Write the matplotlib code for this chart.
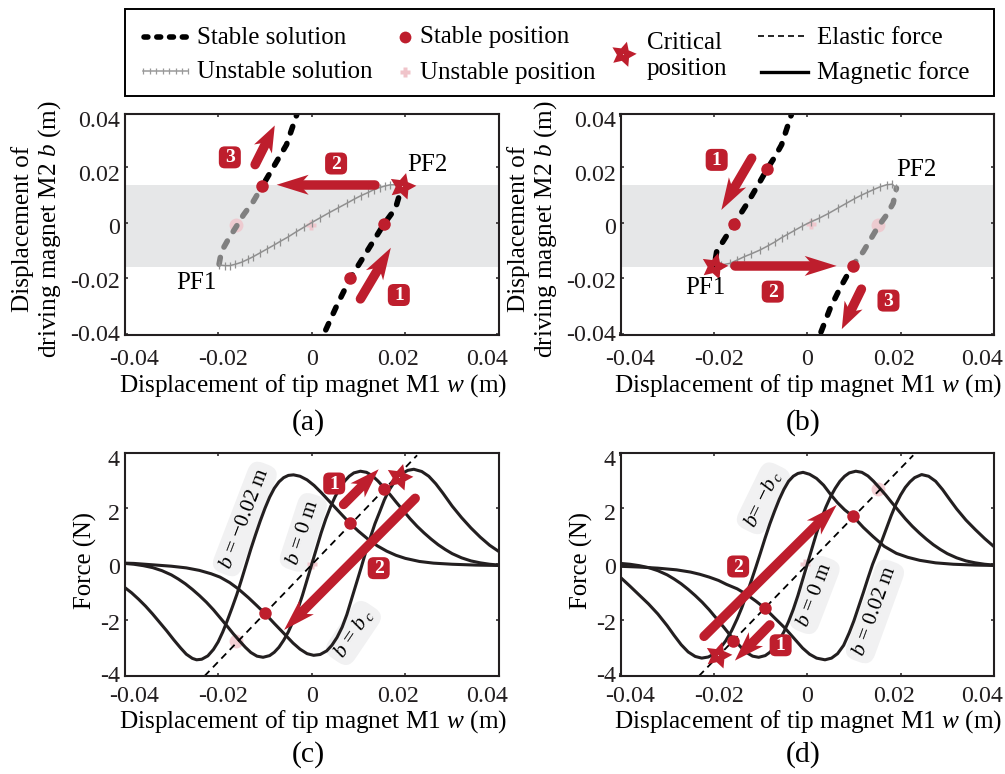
import matplotlib
matplotlib.use('Agg')
import numpy as np
import matplotlib.pyplot as plt
from matplotlib.patches import Polygon, Rectangle, FancyBboxPatch
from matplotlib.lines import Line2D
from matplotlib.transforms import IdentityTransform, ScaledTranslation

plt.rcParams['font.family'] = ['Liberation Serif', 'DejaVu Serif']
plt.rcParams['mathtext.fontset'] = 'custom'
plt.rcParams['mathtext.rm'] = 'Liberation Serif'
plt.rcParams['mathtext.it'] = 'Liberation Serif:italic'
plt.rcParams['mathtext.bf'] = 'Liberation Serif:bold'

RED = '#BE1E2D'; BAND = '#E6E7E8'; INK = '#231F20'; GRAY = '#808080'; PINK = '#F0C4CA'

# ---- panel (a) solution curves
a_top_w = [-.0032, -.0054, -.0075, -.0104]
a_top_b = [.0386, .0278, .0218, .0135]
a_gray_w = [-.0104, -.0125, -.0146, -.0161, -.0179, -.0193, -.0198]
a_gray_b = [.0135, .0075, .0027, -.0014, -.0062, -.0104, -.0149]
a_uns_w = [-.0198, -.0185, -.0175, -.0163, -.015, -.0137, -.0125, -.011, -.0095, -.008, -.0068, -.005, -.0034, -.0017,
           0, .0018, .0037, .0056, .0075, .009, .0105, .012, .0132, .0145, .0157, .0168, .0182, .0193]
a_uns_b = [-.0152, -.0154, -.0154, -.0149, -.0142, -.0132, -.0122, -.0108, -.0094, -.008, -.0068, -.0051, -.0034, -.0017,
           0, .0017, .0035, .0052, .0069, .0083, .0096, .0107, .0117, .0125, .0131, .0135, .0135, .0131]
a_low_w = [.0193, .0179, .0154, .0111, .0082, .0054, .0025]
a_low_b = [.0131, .0051, -.0006, -.0122, -.0200, -.0295, -.0402]
a_stable = ([.0082, .0154, -.0107], [-.0200, -.0006, .0131])
a_unstable = ([-.0161, -.0002], [-.0008, -.0008])
a_star = (.0193, .0131)

# ---- panel (b) solution curves
b_top_w = [-.0034, -.0055, -.0069, -.0086, -.0101, -.0126, -.0157, -.0176, -.0194, -.0199]
b_top_b = [.0386, .0278, .0236, .0191, .0147, .0075, -.0006, -.0056, -.0104, -.0154]
b_uns_w = [-.0199, -.0185, -.0166, -.015, -.0135, -.012, -.0101, -.0085, -.007, -.0055, -.0044, -.0028, -.0012, .0007,
           .0025, .0045, .0065, .0084, .0100, .0115, .0128, .0141, .0155, .0170, .0182, .0191]
b_uns_b = [-.0154, -.0152, -.0146, -.0134, -.0122, -.0112, -.0098, -.0084, -.007, -.0054, -.0044, -.0029, -.0014, .0002,
           .0015, .0032, .0051, .0069, .0084, .0097, .0107, .0117, .0127, .0135, .0137, .0123]
b_gray_w = [.0191, .0184, .0170, .0152, .0120, .0097]
b_gray_b = [.0123, .0069, .0027, -.0014, -.0104, -.0154]
b_low_w = [.0097, .0070, .0049, .0027]
b_low_b = [-.0154, -.0235, -.0307, -.0402]
b_stable = ([-.0086, -.0157, .0097], [.0191, -.0006, -.0154])
b_unstable = ([.0152, .0007], [-.0008, -.0006])
b_star = (-.0199, -.0154)

# ---- force curves
f0_w = [-.042, -.040, -.038, -.036, -.034, -.032, -.030, -.0285, -.027, -.0255, -.024, -.0225, -.021, -.0195, -.018,
        -.0168, -.0155, -.0142, -.013, -.0117, -.0104, -.009, -.008, -.007, -.006, -.005, -.004, -.003, -.002, -.001, 0,
        .001, .002, .003, .004, .005, .006, .007, .008, .009, .0104, .0117, .013, .0142, .0155, .0168, .018, .0195,
        .021, .0225, .024, .0255, .027, .0285, .030, .032, .034, .036, .038, .040, .042]
f0_F = [.05, .03, 0, -.05, -.12, -.23, -.38, -.53, -.70, -.90, -1.12, -1.36, -1.63, -1.93, -2.23,
        -2.48, -2.73, -2.97, -3.16, -3.29, -3.33, -3.27, -3.15, -2.97, -2.72, -2.42, -2.05, -1.62, -1.12, -.56, 0,
        .56, 1.12, 1.62, 2.05, 2.42, 2.72, 2.97, 3.15, 3.27, 3.33, 3.29, 3.16, 2.97, 2.73, 2.48, 2.23, 1.93,
        1.63, 1.36, 1.12, .90, .70, .53, .38, .23, .12, .05, 0, -.03, -.05]
fm_w = [-.042, -.0402, -.0385, -.037, -.0355, -.034, -.0325, -.031, -.0295, -.028, -.0268, -.0255, -.0246, -.0235,
        -.0222, -.021, -.020, -.019, -.018, -.017, -.016, -.015, -.014, -.013, -.012, -.011, -.010, -.009, -.008, -.007,
        -.006, -.005, -.0039, -.0025, -.001, .0005, .002, .0035, .005, .0065, .0082, .010, .012, .014, .016, .018,
        .020, .023, .026, .030, .035, .042]
fm_F = [-.55, -.80, -1.02, -1.25, -1.50, -1.78, -2.08, -2.38, -2.70, -3.00, -3.22, -3.37, -3.42, -3.40,
        -3.28, -3.05, -2.78, -2.42, -2.00, -1.55, -1.08, -.55, 0, .55, 1.06, 1.55, 2.00, 2.40, 2.72, 2.95,
        3.10, 3.18, 3.20, 3.15, 3.02, 2.82, 2.57, 2.30, 2.03, 1.76, 1.46, 1.18, .90, .66, .47, .32,
        .21, .10, .04, 0, -.03, -.05]
fc_w = [-.042, -.038, -.034, -.030, -.0268, -.024, -.0215, -.0196, -.0175, -.0157, -.0135, -.0118, -.010, -.008, -.0057,
        -.004, -.0025, -.001, .0004, .0018, .0032, .0043, .0054, .0065, .0075, .0085, .0095, .0105, .0115, .0125, .0135,
        .0145, .0155, .0165, .0178, .019, .0205, .0218, .0235, .025, .0265, .028, .030, .032, .034, .036, .038, .0402, .042]
fc_F = [.05, .03, -.02, -.07, -.13, -.22, -.34, -.46, -.66, -.88, -1.20, -1.47, -1.76, -2.12, -2.52,
        -2.82, -3.04, -3.20, -3.26, -3.23, -3.10, -2.90, -2.62, -2.25, -1.80, -1.25, -.70, -.15, .42, .95, 1.45,
        1.87, 2.30, 2.65, 2.98, 3.22, 3.36, 3.40, 3.32, 3.15, 2.88, 2.55, 2.08, 1.67, 1.30, .97, .68, .43, .28]
d2_w = [-.042, -.036, -.032, -.028, -.025, -.023, -.021, -.019, -.0173, -.015, -.013, -.011, -.0091, -.007, -.0048,
        -.003, -.001, .0005, .002, .0038, .0052, .0065, .0078, .009, .010, .011, .012, .013, .014, .015, .016, .017,
        .018, .019, .020, .021, .022, .023, .0245, .026, .0275, .029, .0305, .032, .034, .036, .038, .040, .042]
d2_F = [-.06, -.10, -.14, -.20, -.28, -.36, -.46, -.58, -.72, -.88, -1.08, -1.32, -1.57, -1.92, -2.28,
        -2.62, -3.00, -3.22, -3.36, -3.42, -3.36, -3.20, -2.90, -2.45, -2.02, -1.52, -1.02, -.50, 0, .42, .85, 1.30,
        1.75, 2.15, 2.48, 2.75, 2.95, 3.10, 3.21, 3.15, 2.97, 2.67, 2.32, 1.98, 1.58, 1.24, .92, .63, .40]
dc_w = [-.042, -.0402, -.038, -.036, -.034, -.032, -.030, -.0285, -.027, -.0255, -.024, -.0226, -.0212, -.0198, -.0187,
        -.0175, -.0162, -.015, -.014, -.013, -.012, -.011, -.010, -.009, -.008, -.007, -.006, -.005, -.004, -.003, -.002,
        -.0009, .0005, .002, .0035, .005, .0065, .008, .0099, .012, .0141, .0165, .0191, .0215, .0241, .0275, .0313,
        .036, .042]
dc_F = [-.20, -.44, -.78, -1.10, -1.42, -1.78, -2.20, -2.55, -2.88, -3.14, -3.30, -3.36, -3.32, -3.20, -3.02,
        -2.75, -2.38, -1.95, -1.55, -1.08, -.60, -.10, .42, .95, 1.45, 1.90, 2.32, 2.68, 2.97, 3.15, 3.25,
        3.29, 3.22, 3.07, 2.83, 2.50, 2.20, 1.95, 1.70, 1.32, .99, .64, .39, .25, .14, .05, 0,
        -.03, -.05]
elastic_c_w = [-.0229, .0225]
elastic_c_F = [-4.0, 3.9]
elastic_d_w = [-.0232, .0227]
elastic_d_F = [-4.0, 3.9]
c_stable = ([.0082, .0155, -.0100], [1.46, 2.71, -1.75])
c_unstable = ([-.0161, 0], [-2.76, 0])
c_star = (.0186, 3.13)
d_stable = ([.0099, -.0091, -.0159], [1.73, -1.57, -2.74])
d_unstable = ([.0152, -.0004], [2.71, 0])
d_star = (-.0191, -3.24)

xticks = [-.04, -.02, 0, .02, .04]
xticklabels = ['-0.04', '-0.02', '0', '0.02', '0.04']
yticks_top = [-.04, -.02, 0, .02, .0388]
yticklabels_top = ['-0.04', '-0.02', '0', '0.02', '0.04']
yticks_force = [-4, -2, 0, 2, 4]
yticklabels_force = ['-4', '-2', '0', '2', '4']
XLABEL = r'Displacement of tip magnet M1 $w$ (m)'
YLABEL = 'Displacement of\n' + r'driving magnet M2 $b$ (m)'

W, H = 1005, 774
fig = plt.figure(figsize=(W / 100, H / 100), dpi=100, facecolor='white')
FS = 17.3
LAB = 18.2


def nudge(lab, dx, dy):
    lab.set_transform(lab.get_transform() + ScaledTranslation(dx / 100, dy / 100, fig.dpi_scale_trans))


def mkax(l, r, t, b, ylim, yt, ytl, xpad, yshift):
    ax = fig.add_axes([l / W, 1 - b / H, (r - l) / W, (b - t) / H])
    ax.set_xlim(-.04, .04); ax.set_ylim(*ylim)
    ax.set_xticks(xticks); ax.set_xticklabels(xticklabels, fontsize=FS)
    ax.set_yticks(yt); ax.set_yticklabels(ytl, fontsize=FS)
    ax.tick_params(direction='in', top=True, right=True, length=2.5, width=1.1, colors=INK)
    ax.tick_params(axis='x', pad=xpad)
    ax.tick_params(axis='y', pad=3.5)
    for s in ax.spines.values():
        s.set_linewidth(1.5); s.set_color(INK); s.set_zorder(20)
    for lab, dx in zip(ax.get_xticklabels(), (10, 5, 0, -7, -12)):
        nudge(lab, dx, 0)
    for lab, dy in zip(ax.get_yticklabels(), yshift):
        nudge(lab, 0, -dy)
    return ax


TOP_SHIFT = (-1, 2, 3, 6, 5)
FORCE_SHIFT = (-2, 2, 2, 4, 6)
axa = mkax(124.5, 499, 114, 335, (-.0402, .0388), yticks_top, yticklabels_top, 10, TOP_SHIFT)
axb = mkax(620.5, 994, 114, 335, (-.0402, .0388), yticks_top, yticklabels_top, 10, TOP_SHIFT)
axc = mkax(124.5, 499, 452.5, 676, (-4, 4), yticks_force, yticklabels_force, 7.5, FORCE_SHIFT)
axd = mkax(620.5, 994, 452.5, 676, (-4, 4), yticks_force, yticklabels_force, 7.5, FORCE_SHIFT)

for ax, yx in ((axa, 37), (axb, 533)):
    ax.axhspan(-.0158, .0135, color=BAND, lw=0, zorder=0)
    fig.text(yx / W, 1 - 229 / H, YLABEL, rotation=90, ha='center', va='center', fontsize=LAB,
             linespacing=1.08, color='black')
for ax in (axc, axd):
    ax.set_ylabel('Force (N)', fontsize=17.8, labelpad=0)
    ax.yaxis.set_label_coords(-.073, .516)
for ax in (axa, axb, axc, axd):
    ax.set_xlabel(XLABEL, fontsize=LAB, labelpad=0)
    ax.xaxis.set_label_coords(.503, -.17 if ax in (axa, axb) else -.145)

for txt, px, py in (('(a)', 308, 423), ('(b)', 803, 423), ('(c)', 308, 755), ('(d)', 803, 755)):
    fig.text(px / W, 1 - py / H, txt, ha='center', va='center', fontsize=21.5)


def stable(ax, w, y, col='black'):
    ax.plot(w, y, color=col, lw=4.0, linestyle=(1, (1.25, 2.0)), dash_capstyle='round', zorder=3)


def unstable(ax, w, y):
    ax.plot(w, y, color='#909090', lw=1.1, marker='|', markersize=5.5, markeredgewidth=.9, zorder=3)


def pts(ax, st, un, star, un_round=None, star_dot='white'):
    ax.plot(*st, 'o', color=RED, ms=9, mec='none', zorder=6)
    if un_round is not None:
        ax.plot([un[0][un_round]], [un[1][un_round]], 'o', color=PINK, ms=10, mec='none', alpha=.8, zorder=2.5)
    idx = [i for i in range(len(un[0])) if i != un_round]
    ax.plot(np.array(un[0])[idx], np.array(un[1])[idx], marker='P', ls='none', color=PINK, ms=6.5, mec='none',
            alpha=.9, zorder=2.5)
    ax.plot(*star, marker=(5, 1, -15), color=RED, ms=20, mec='none', zorder=7)
    ax.plot(*star, '.', color=star_dot, ms=1.0, mew=0, zorder=8)


def arrow(ax, tail, tip, sw=9.5, z=9):
    p0 = ax.transData.transform(tail); p1 = ax.transData.transform(tip)
    d = p1 - p0; ln = np.hypot(*d); u = d / ln; n = np.array([-u[1], u[0]])
    L = np.clip(.6 * ln, 24, 32); Wd = 20
    base = p1 - .72 * L * u
    fig.add_artist(Line2D([p0[0], base[0]], [p0[1], base[1]], color=RED, lw=sw * .72, solid_capstyle='round',
                          transform=IdentityTransform(), zorder=z))
    fig.add_artist(Polygon([p1, p1 - L * u + Wd / 2 * n, base, p1 - L * u - Wd / 2 * n], closed=True, fc=RED, ec='none',
                           transform=IdentityTransform(), zorder=z))


def badge(ax, x, y, s):
    p = ax.transData.transform((x, y))
    fig.add_artist(FancyBboxPatch((p[0] - 7, p[1] - 7), 14, 14, boxstyle='round,pad=4,rounding_size=6', fc=RED, ec='none',
                                  transform=IdentityTransform(), zorder=11))
    fig.text(p[0] / W, p[1] / H - .0008, s, color='white', fontsize=14, fontweight='bold', ha='center', va='center', zorder=12)


def curve_label(ax, x, y, s, rot):
    ax.text(x, y, s, fontsize=15.5, rotation=rot, rotation_mode='anchor', ha='center', va='center', zorder=2,
            bbox=dict(boxstyle='round,pad=0.25,rounding_size=0.55', fc='#F1F1F2', ec='none'))


# panel a
stable(axa, a_top_w, a_top_b); stable(axa, a_gray_w, a_gray_b, GRAY); stable(axa, a_low_w, a_low_b)
unstable(axa, a_uns_w, a_uns_b)
pts(axa, a_stable, a_unstable, a_star, un_round=0)
arrow(axa, (.0104, -.0273), (.0169, -.0090)); arrow(axa, (.0136, .0135), (-.0075, .0135))
arrow(axa, (-.0121, .0207), (-.0079, .0347))
badge(axa, -.0175, .0233, '3'); badge(axa, .0052, .0211, '2'); badge(axa, .0186, -.0259, '1')
axa.text(.0246, .0207, 'PF2', fontsize=18, ha='center', va='center', zorder=10)
axa.text(-.0246, -.0217, 'PF1', fontsize=18, ha='center', va='center', zorder=10)

# panel b
stable(axb, b_top_w, b_top_b); stable(axb, b_gray_w, b_gray_b, GRAY); stable(axb, b_low_w, b_low_b)
unstable(axb, b_uns_w, b_uns_b)
pts(axb, b_stable, b_unstable, b_star, un_round=0, star_dot='black')
arrow(axb, (-.0119, .0230), (-.0184, .0045)); arrow(axb, (-.0155, -.0155), (.0063, -.0155))
arrow(axb, (.0116, -.0238), (.0074, -.0381))
badge(axb, -.0194, .0224, '1'); badge(axb, -.0074, -.0247, '2'); badge(axb, .0174, -.0279, '3')
axb.text(.0233, .0189, 'PF2', fontsize=18, ha='center', va='center', zorder=10)
axb.text(-.0219, -.0233, 'PF1', fontsize=18, ha='center', va='center', zorder=10)

# panels c, d
for ax, curves in ((axc, ((fm_w, fm_F), (f0_w, f0_F), (fc_w, fc_F))), (axd, ((dc_w, dc_F), (f0_w, f0_F), (d2_w, d2_F)))):
    for cw, cf in curves:
        ax.plot(cw, cf, color=INK, lw=2.2, solid_joinstyle='round', zorder=3)
axc.plot(elastic_c_w, elastic_c_F, color='black', lw=1.3, ls=(0, (3.9, 2.8)), zorder=4)
axd.plot(elastic_d_w, elastic_d_F, color='black', lw=1.3, ls=(0, (3.9, 2.8)), zorder=4)
pts(axc, c_stable, c_unstable, c_star, un_round=0)
pts(axd, d_stable, d_unstable, d_star, un_round=0, star_dot='white')
arrow(axc, (.0068, 2.14), (.0143, 3.40)); arrow(axc, (.0221, 2.36), (-.0059, -2.35))
arrow(axd, (-.0080, -2.17), (-.0155, -3.45)); arrow(axd, (-.0221, -2.58), (.0063, 2.12))
badge(axc, .0048, 2.89, '1'); badge(axc, .0143, -.14, '2')
badge(axd, -.0057, -2.90, '1'); badge(axd, -.0148, -.08, '2')
curve_label(axc, -.0143, 1.62, '$b$ = \u22120.02 m', 69)
curve_label(axc, -.0018, 1.14, '$b$ = 0 m', 72)
curve_label(axc, .0089, -2.46, r'$b$ = $b_{\,c}$', 56)
curve_label(axd, -.0094, 2.36, '$b$= \u2212' + r'$b_{\,c}$', 64)
curve_label(axd, .0016, -1.10, '$b$ = 0 m', 69)
curve_label(axd, .0145, -1.69, '$b$ = 0.02 m', 70)

# legend box in pixel coordinates
ov = fig.add_axes([0, 0, 1, 1], zorder=30); ov.set_xlim(0, W); ov.set_ylim(H, 0); ov.axis('off'); ov.patch.set_alpha(0)
ov.add_patch(Rectangle((124.5, 8.5), 869.5, 87, fc='none', ec='black', lw=1.4))
LF = 18
ov.plot([144, 191], [36.5, 36.5], color='black', lw=4.0, ls=(0, (.7, 1.6)), dash_capstyle='round')
lk_x = [143, 149.5, 156, 162.5, 169, 175.5, 182, 188]
ov.plot(lk_x, [71] * len(lk_x), color='#9A9A9A', lw=1.1, marker='|', ms=5, mew=.9)
ov.plot([405], [37], 'o', color=RED, ms=8.5, mec='none')
ov.plot([405], [72], marker='P', color=PINK, ms=7.5, mec='none')
ov.plot([623], [54], marker=(5, 1, -15), color=RED, ms=19, mec='none')
ov.plot([623], [54], '.', color='white', ms=1.0, mew=0)
ov.plot([758, 808], [36, 36], color='black', lw=1.2, ls=(0, (3.6, 2.4)))
ov.plot([761, 808], [72, 72], color='black', lw=2.4)
for s, x, y in (('Stable solution', 197, 37.5), ('Unstable solution', 197, 72.5), ('Stable position', 420, 37.5),
                ('Unstable position', 420, 72.5), ('Elastic force', 817, 37.5), ('Magnetic force', 817, 72.5)):
    ov.text(x, y, s, fontsize=LF, ha='left', va='center')
ov.text(647, 43, 'Critical', fontsize=LF, ha='left', va='center')
ov.text(647, 68.5, 'position', fontsize=LF, ha='left', va='center')

fig.savefig('out.png', dpi=100)
